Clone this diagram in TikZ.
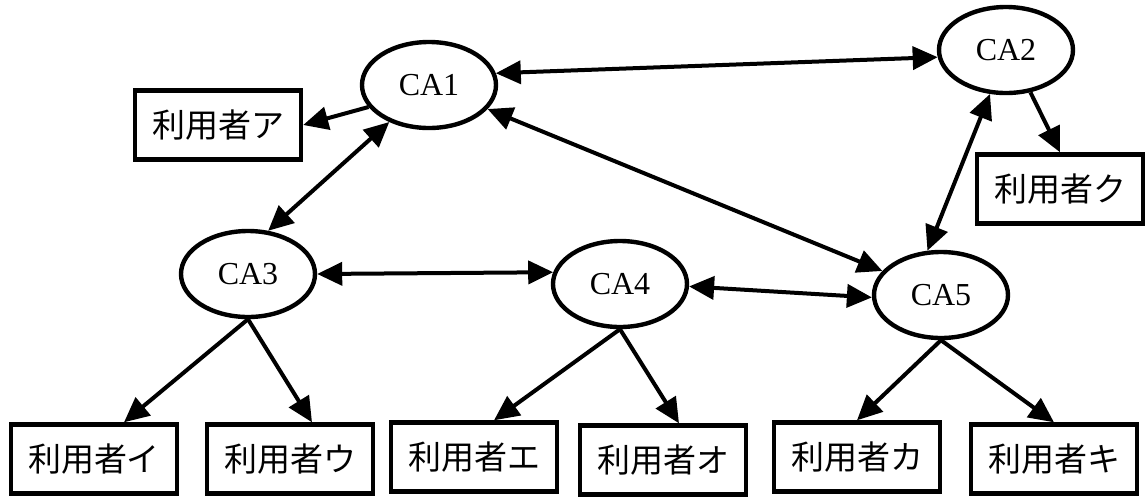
\documentclass[tikz,border=0pt]{standalone}
\usepackage{fontspec}
\setmainfont{Liberation Serif}
\newfontfamily\jpfont{Noto Sans CJK JP}
\usetikzlibrary{shapes.geometric,arrows.meta}

\begin{document}
\begin{tikzpicture}[x=0.5pt, y=-0.5pt,
    ca/.style={draw, ellipse, line width=2.2pt, minimum width=67pt, minimum height=43pt, inner sep=0pt, font=\fontsize{16}{19}\selectfont},
    user/.style={draw, rectangle, line width=2.2pt, minimum width=83pt, minimum height=34.5pt, inner sep=0pt, font=\jpfont\fontsize{16.5}{19}\selectfont},
    link/.style={line width=2pt, >={Triangle[length=12.5pt, width=11.5pt]}}]
    \useasboundingbox (0,0) rectangle (1148,499);

    % Nodes
    \node (ca1) [ca] at (429,85) {CA1};
    \node (ca2) [ca] at (1006,50) {CA2};
    \node (ca3) [ca] at (248,274) {CA3};
    \node (ca4) [ca] at (620,284) {CA4};
    \node (ca5) [ca] at (941,295) {CA5};
    \node (userA) [user] at (218,125) {利用者ア};
    \node (userKu) [user] at (1060,189) {利用者ク};
    \node (userI) [user] at (94,459) {利用者イ};
    \node (userU) [user] at (290,459) {利用者ウ};
    \node (userE) [user] at (474,457) {利用者エ};
    \node (userO) [user] at (663,460) {利用者オ};
    \node (userKa) [user] at (857,457) {利用者カ};
    \node (userKi) [user] at (1054,459) {利用者キ};

    % Arrows
    \draw[link, <->] (ca1.10) -- (ca2.186);
    \draw[link, <->] (ca1) -- (ca5);
    \draw[link, <->] (ca1.223) -- (ca3.65);
    \draw[link, <->] (ca2.250) -- (ca5.107);
    \draw[link, <->] (ca3.east) -- (ca4.170);
    \draw[link, <->] (ca4.-2) -- (ca5.182);
    \draw[link, ->] (ca1.200) -- (userA.east);
    \draw[link, ->] (ca2.-60) -- (userKu.north);
    \draw[link, ->] (ca3.south) -- ([xshift=15pt]userI.north);
    \draw[link, ->] (ca3.south) -- ([xshift=11pt]userU.north);
    \draw[link, ->] (ca4.south) -- ([xshift=10pt]userE.north);
    \draw[link, ->] (ca4.south) -- ([xshift=8pt]userO.north);
    \draw[link, ->] (ca5.south) -- (userKa.north);
    \draw[link, ->] (ca5.south) -- (userKi.north);
\end{tikzpicture}
\end{document}
